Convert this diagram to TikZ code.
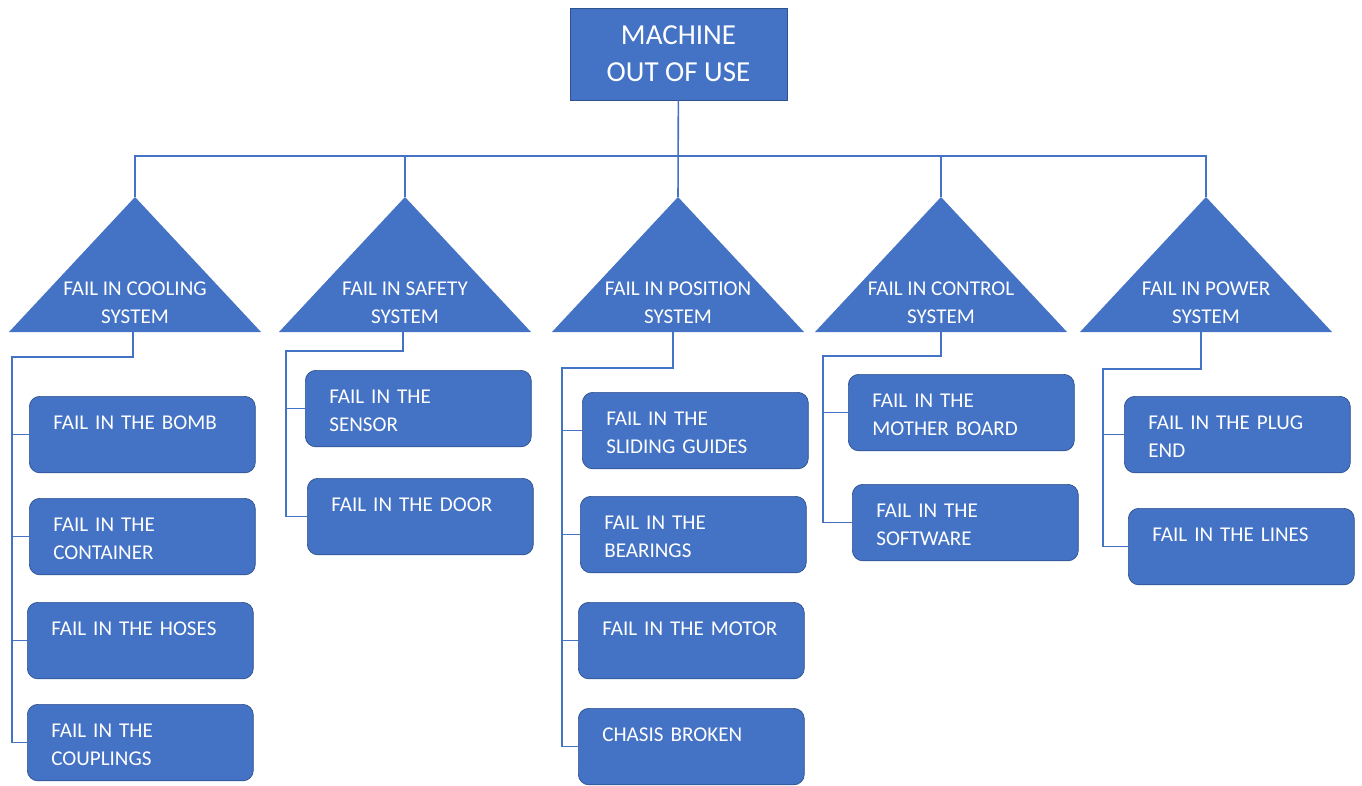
\documentclass[tikz,border=0pt]{standalone}
\usepackage{fontspec}
\setmainfont{Carlito}
\usepackage{tikz}
\usetikzlibrary{positioning}
\definecolor{officeblue}{HTML}{4472C4}
\definecolor{officeedge}{HTML}{2F528F}
\tikzset{
        wire/.style={draw=officeblue, line width=0.9pt}, % connectors of the tree
        tri/.style={fill=officeblue}, % the five failure triangles
        tritext/.style={text=white, align=center, font=\fontsize{12}{15.9}\selectfont},
        topbox/.style={draw=officeedge, fill=officeblue, text=white, align=center, minimum width=4.34cm, minimum height=1.84cm, font=\fontsize{16.5}{21}\selectfont},
        failbox/.style={draw=officeedge, fill=officeblue, text=white, rounded corners=6pt, anchor=north west, align=left, inner xsep=0.48cm, inner ysep=0.3cm, text width=3.56cm, text height=0.37cm, text depth=0.56cm, font=\fontsize{12}{15.9}\selectfont},
}
\begin{document}
\begin{tikzpicture}[x=0.02cm,y=-0.02cm]
\useasboundingbox (0,0) rectangle (1362,785);
\node[topbox] (machine) at (678.5,54) {MACHINE\\OUT OF USE};

% triangles
\foreach \n/\x/\s/\t in {cool/135/133/COOLING, safe/405/403/SAFETY, pos/678/673/POSITION, ctrl/941/941/CONTROL, pow/1206/1201/POWER}{
  \fill[tri] (\x,197) coordinate (\n) -- ++(126,135) -- ++(-252,0) -- cycle;
  \node[tritext] (\n t) at (\x,303) {FAIL IN \t\\SYSTEM};
  \coordinate (\n b) at (\s,332);
}
\coordinate (bus) at (0,156);
\draw[wire] (machine) -- (pos);
\draw[wire] (cool) -- (cool|-bus) -- (pow|-bus) -- (pow);
\foreach \n in {safe,ctrl}
  \draw[wire] (\n) -- (\n|-bus);

% cooling
\node[failbox] (bomb) at (29,396) {FAIL IN THE BOMB};
\node[failbox] (cont) at (29,498) {FAIL IN THE\\CONTAINER};
\node[failbox] (hose) at (27,602) {FAIL IN THE HOSES};
\node[failbox] (coupl) at (27,704) {FAIL IN THE\\COUPLINGS};
\coordinate (coolsp) at (12,357);
\draw[wire] (coolb) |- (coolsp) -- (coolsp|-coupl.west);
\foreach \b in {bomb,cont,hose,coupl}
  \draw[wire] (coolsp|-\b.west) -- (\b.west);

% safety
\node[failbox] (sens) at (305,370) {FAIL IN THE\\SENSOR};
\node[failbox] (door) at (307,478) {FAIL IN THE DOOR};
\coordinate (safesp) at (286,351);
\draw[wire] (safeb) |- (safesp) -- (safesp|-door.west);
\foreach \b in {sens,door}
  \draw[wire] (safesp|-\b.west) -- (\b.west);

% position
\node[failbox] (slide) at (582,392) {FAIL IN THE\\SLIDING GUIDES};
\node[failbox] (bear) at (580,496) {FAIL IN THE\\BEARINGS};
\node[failbox] (motor) at (578,602) {FAIL IN THE MOTOR};
\node[failbox] (chas) at (578,708) {CHASIS BROKEN};
\coordinate (possp) at (562,368);
\draw[wire] (posb) |- (possp) -- (possp|-chas.west);
\foreach \b in {slide,bear,motor,chas}
  \draw[wire] (possp|-\b.west) -- (\b.west);

% control
\node[failbox] (mboard) at (848,374) {FAIL IN THE\\MOTHER BOARD};
\node[failbox] (soft) at (852,484) {FAIL IN THE\\SOFTWARE};
\coordinate (ctrlsp) at (823,356);
\draw[wire] (ctrlb) |- (ctrlsp) -- (ctrlsp|-soft.west);
\foreach \b in {mboard,soft}
  \draw[wire] (ctrlsp|-\b.west) -- (\b.west);

% power
\node[failbox] (plug) at (1124,396) {FAIL IN THE PLUG\\END};
\node[failbox] (lines) at (1128,508) {FAIL IN THE LINES};
\coordinate (powsp) at (1103,369);
\draw[wire] (powb) |- (powsp) -- (powsp|-lines.west);
\foreach \b in {plug,lines}
  \draw[wire] (powsp|-\b.west) -- (\b.west);
\end{tikzpicture}
\end{document}
